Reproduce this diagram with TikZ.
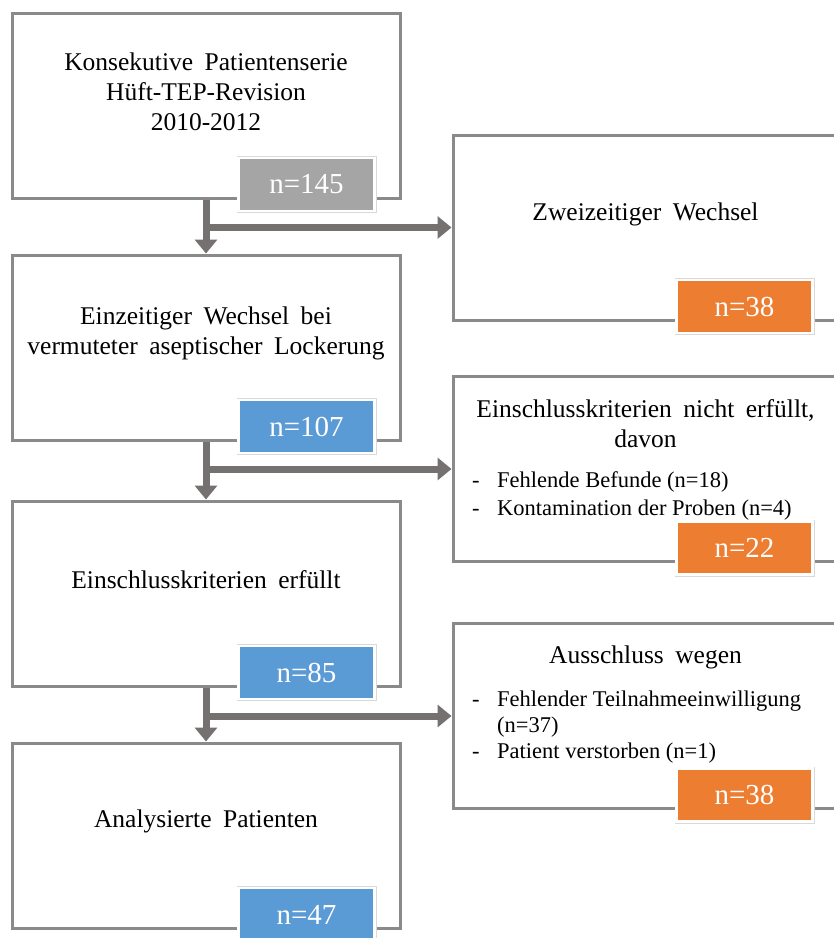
\documentclass[tikz,border=0pt]{standalone}
\usepackage{fontspec}
\setmainfont{Liberation Serif}
\newfontfamily\stagefont[WordSpace=1.8]{Liberation Serif}
\usetikzlibrary{arrows.meta,positioning}

\definecolor{framegray}{HTML}{8A8A8A}
\definecolor{flowgray}{HTML}{767171}
\definecolor{countgray}{HTML}{A5A5A5}
\definecolor{countorange}{HTML}{ED7D31}
\definecolor{countblue}{HTML}{5B9BD5}

\tikzset{
    stagebox/.style={draw=framegray, line width=3pt, minimum width=388pt, minimum height=185pt, inner sep=0pt},
    sidebox/.style={stagebox, minimum width=385pt},
    stagetext/.style={font=\stagefont\fontsize{25.5}{30}\selectfont, align=center, inner sep=0pt},
    listtext/.style={font=\fontsize{22.5}{27}\selectfont, anchor=base west, inner sep=0pt},
    countbox/.style={fill=#1, draw=white, line width=2.5pt, preaction={draw=black!15, line width=4pt},
        text=white, font=\fontsize{29}{34}\selectfont, minimum width=136pt, minimum height=53pt, inner sep=0pt},
    flow/.style={draw=flowgray, line width=7pt, -{Triangle[width=22pt,length=14pt]}},
}

\begin{document}
\begin{tikzpicture}[x=1pt, y=-1pt]
    \fill[white] (0,0) rectangle (834,938);
    \useasboundingbox (0,0) rectangle (834,938);
    \clip (0,0) rectangle (834,938);

    % Left column
    \node[stagebox] (serie) at (206,105.5) {};
    \node[stagebox] (einzeitig) at (206,347.5) {};
    \node[stagebox] (erfuellt) at (206,593.5) {};
    \node[stagebox] (analyse) at (206,835.5) {};

    \node[stagetext, yshift=14pt] (serietext) at (serie.center) {Konsekutive Patientenserie\\Hüft-TEP-Revision\\2010-2012};
    \node[stagetext, yshift=14pt] (einzeitigtext) at (einzeitig.center) {Einzeitiger Wechsel bei\\vermuteter aseptischer Lockerung};
    \node[stagetext, yshift=14pt] (erfuellttext) at (erfuellt.center) {Einschlusskriterien erfüllt};
    \node[stagetext, yshift=14pt] (analysetext) at (analyse.center) {Analysierte Patienten};

    % Right column
    \node[sidebox] (zweizeitig) at (645.5,227.5) {};
    \node[sidebox] (nichterfuellt) at (645.5,469) {};
    \node[sidebox] (ausschluss) at (645.5,716) {};

    \node[stagetext, yshift=13pt] (zweizeitigtext) at (zweizeitig.center) {Zweizeitiger Wechsel};
    \node[stagetext, anchor=north, yshift=-24pt] (nichterfuellttext) at (nichterfuellt.north) {Einschlusskriterien nicht erfüllt,\\davon};
    \node[stagetext, anchor=north, yshift=-24pt] (ausschlusstext) at (ausschluss.north) {Ausschluss wegen};

    \node[listtext] (befundedash) at (472,487) {-};
    \node[listtext] (befunde) at (497,487) {Fehlende Befunde (n=18)};
    \node[listtext] (probendash) at (472,515) {-};
    \node[listtext] (proben) at (497,515) {Kontamination der Proben (n=4)};

    \node[listtext] (teilnahmedash) at (472,706) {-};
    \node[listtext] (teilnahme) at (497,706) {Fehlender Teilnahmeeinwilligung};
    \node[listtext] (teilnahmezahl) at (497,732) {(n=37)};
    \node[listtext] (verstorbendash) at (472,758) {-};
    \node[listtext] (verstorben) at (497,758) {Patient verstorben (n=1)};

    % Arrows
    \draw[flow] (serie.south) -- (einzeitig.north);
    \draw[flow] (serie.south |- zweizeitig.west) -- (zweizeitig.west);
    \draw[flow] (einzeitig.south) -- (erfuellt.north);
    \draw[flow] (einzeitig.south |- nichterfuellt.west) -- (nichterfuellt.west);
    \draw[flow] (erfuellt.south) -- (analyse.north);
    \draw[flow] (erfuellt.south |- ausschluss.west) -- (ausschluss.west);

    % Counts
    \node[countbox=countgray] (n145) at ([xshift=-95pt, yshift=15pt]serie.south east) {n=145};
    \node[countbox=countblue] (n107) at ([xshift=-95pt, yshift=15pt]einzeitig.south east) {n=107};
    \node[countbox=countblue] (n85) at ([xshift=-95pt, yshift=15pt]erfuellt.south east) {n=85};
    \node[countbox=countblue] (n47) at ([xshift=-95pt, yshift=15pt]analyse.south east) {n=47};
    \node[countbox=countorange] (n38a) at ([xshift=-95pt, yshift=15pt]zweizeitig.south east) {n=38};
    \node[countbox=countorange] (n22) at ([xshift=-95pt, yshift=15pt]nichterfuellt.south east) {n=22};
    \node[countbox=countorange] (n38b) at ([xshift=-95pt, yshift=15pt]ausschluss.south east) {n=38};
\end{tikzpicture}
\end{document}
